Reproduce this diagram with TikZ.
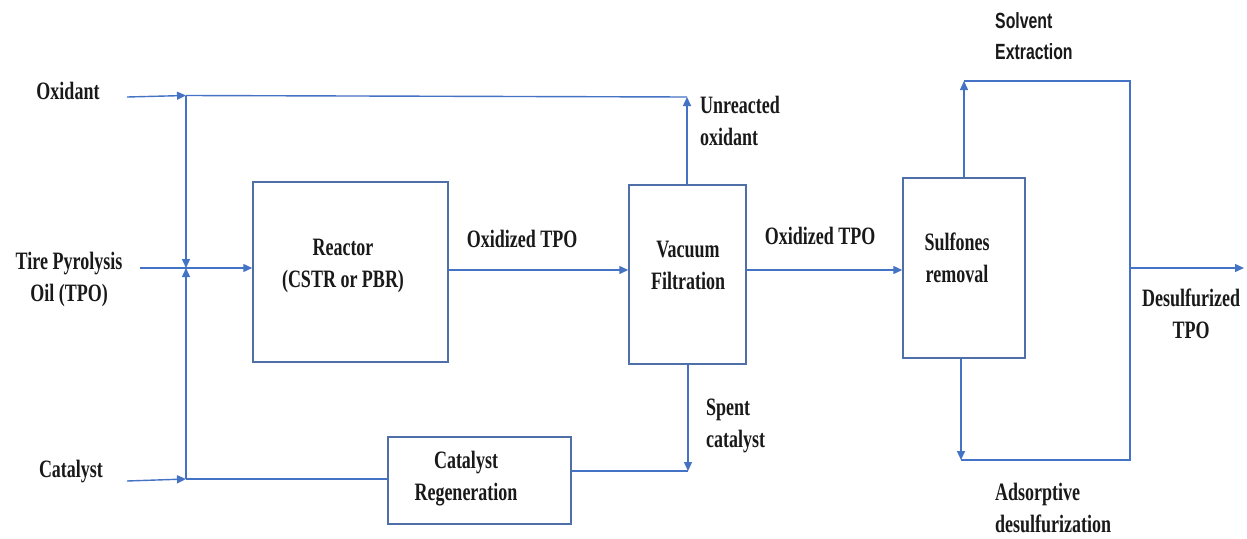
\documentclass[tikz,border=0pt]{standalone}
\usepackage{graphicx}
\usepackage{fontspec}
\setmainfont{Liberation Serif}
\newfontfamily\sansc{Liberation Sans}
\usetikzlibrary{arrows.meta}
\definecolor{fl}{HTML}{4472C4}
\definecolor{bx}{HTML}{4F6FA8}
\newcommand\lbl[2][c]{\scalebox{0.72}[1]{\begin{tabular}{@{}#1@{}}#2\end{tabular}}}
\tikzset{
 flow/.style={draw=fl, line width=1.4pt},
 arr/.style={flow, -{Triangle[length=9pt,width=8pt]}},
 box/.style={draw=bx, line width=1.5pt, fill=white, inner sep=0pt},
 txt/.style={font=\bfseries\fontsize{25}{32}\selectfont, inner sep=0pt, text=black!90},
 ltxt/.style={txt, anchor=west},
}
\begin{document}
\begin{tikzpicture}[x=1pt,y=-1pt]
\useasboundingbox (0,0) rectangle (1247,538);
% boxes
\node[box, minimum width=195pt, minimum height=180pt] (reactor) at (350.5,272) {};
\node[box, minimum width=117pt, minimum height=179pt] (vf) at (687.5,274.5) {};
\node[box, minimum width=122pt, minimum height=180pt] (sr) at (964,268) {};
\node[box, minimum width=183pt, minimum height=87pt] (regen) at (479.5,480.5) {};
% box texts
\node[txt] (reactorT) at (343,265) {\lbl{Reactor\\(CSTR or PBR)}};
\node[txt] (vfT) at (688,267) {\lbl{Vacuum\\Filtration}};
\node[txt] (srT) at (957,260) {\lbl{Sulfones\\removal}};
\node[txt] (regenT) at (466,478) {\lbl{Catalyst\\Regeneration}};
% labels
\node[txt] (oxL) at (68,93) {\lbl{Oxidant}};
\node[txt] (tpoL) at (69,279) {\lbl{Tire Pyrolysis\\Oil (TPO)}};
\node[txt] (catL) at (71,471) {\lbl{Catalyst}};
\node[txt] (ox1) at (522,241) {\lbl{Oxidized TPO}};
\node[txt] (ox2) at (820,238) {\lbl{Oxidized TPO}};
\node[ltxt] (uoL) at (700,123) {\lbl[l]{Unreacted\\oxidant}};
\node[ltxt] (scL) at (706,425) {\lbl[l]{Spent\\catalyst}};
\node[ltxt, font=\sansc\bfseries\fontsize{22}{31}\selectfont] (seL) at (995,37.5) {\lbl[l]{Solvent\\Extraction}};
\node[ltxt] (adL) at (995,510) {\lbl[l]{Adsorptive\\desulfurization}};
\node[txt] (dsL) at (1191,316) {\lbl{Desulfurized\\TPO}};
% coordinates
\coordinate (oxs) at (127,97);
\coordinate (j1) at (186,95.5);
\coordinate (j2) at (186,268);
\coordinate (j3) at (186,479);
\coordinate (cats) at (127,481);
\coordinate (tpos) at (140,268);
\coordinate (uo) at (687,97);
\coordinate (sc) at (688,471);
\coordinate (st) at (964,81);
\coordinate (sb) at (961,460);
\coordinate (rt) at (1130,81);
\coordinate (rb) at (1130,460);
\coordinate (rm) at (1130,268);
\coordinate (out) at (1244,268);
% connectors
\draw[arr] (oxs) -- (j1);
\draw[flow] (j1) -- (uo);
\draw[arr] (j1) -- (j2);
\draw[arr] (cats) -- (j3);
\draw[arr] (j3) -- (j2);
\draw[flow] (j3) -- (j3 -| regen.west);
\draw[arr] (tpos) -- (tpos -| reactor.west);
\draw[arr] (reactor.east |- 0,270) -- (vf.west |- 0,270);
\draw[arr] (vf.north -| uo) -- (uo);
\draw[arr] (vf.south -| sc) -- (sc);
\draw[flow] (sc) -- (sc -| regen.east);
\draw[arr] (vf.east |- 0,270) -- (sr.west |- 0,270);
\draw[arr] (sr.north -| st) -- (st);
\draw[flow] (st) -- (rt) -- (rb) -- (sb);
\draw[arr] (sr.south -| sb) -- (sb);
\draw[arr] (rm) -- (out);
\end{tikzpicture}
\end{document}
